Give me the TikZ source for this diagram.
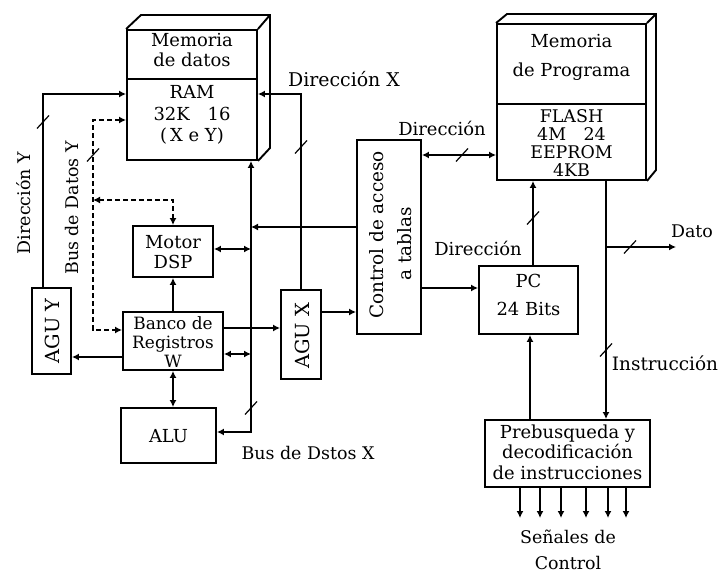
\documentclass[tikz,border=0pt]{standalone}
\usepackage{fontspec}
\setmainfont{DejaVu Serif}
\usetikzlibrary{arrows.meta}
\begin{document}
\begin{tikzpicture}[x=1bp,y=-1bp,line width=1.7bp,
  box/.style={draw,line width=1.9bp,inner sep=0pt},
  t/.style={inner sep=0pt,align=center,font=\fontsize{18}{20}\selectfont},
  arr/.style={-{Latex[length=7bp,width=7bp]}},
  darr/.style={{Latex[length=7bp,width=7bp]}-{Latex[length=7bp,width=7bp]}},
  dsh/.style={dash pattern=on 5bp off 3bp},
  slashmark/.style={line width=1.2bp}]
\useasboundingbox[fill=white] (0,0) rectangle (719,574);
% boxes
\node[box,minimum width=130bp,minimum height=130bp] (ram) at (192,95) {};
\draw[line width=1.9bp] (ram.north west) -- (141,15) -- (270,15) -- (270,148) -- (ram.south east);
\draw[line width=1.9bp] (ram.north east) -- (270,15);
\draw[line width=1.9bp] (ram.west |- 0,79) -- (ram.east |- 0,79);
\node[box,minimum width=149bp,minimum height=156bp] (prog) at (571.5,102) {};
\draw[line width=1.9bp] (prog.north west) -- (507,14) -- (656,14) -- (656,170) -- (prog.south east);
\draw[line width=1.9bp] (prog.north east) -- (656,14);
\draw[line width=1.9bp] (prog.west |- 0,104) -- (prog.east |- 0,104);
\node[box,minimum width=64bp,minimum height=194bp] (ctrl) at (389,237) {};
\node[box,minimum width=99bp,minimum height=68bp] (pc) at (528.5,300) {};
\node[box,minimum width=80bp,minimum height=51bp] (motor) at (173,251.5) {};
\node[box,minimum width=100bp,minimum height=58bp] (banco) at (173,341) {};
\node[box,minimum width=39bp,minimum height=86bp] (aguy) at (51.5,331) {};
\node[box,minimum width=40bp,minimum height=89bp] (agux) at (301,334.5) {};
\node[box,minimum width=95bp,minimum height=55bp] (alu) at (168.5,435.5) {};
\node[box,minimum width=165bp,minimum height=67bp] (preb) at (567.5,453.5) {};
% texts in boxes
\node[t] (tmd) at (192,50) {Memoria\\de datos};
\node[t,font=\fontsize{18}{21.5}\selectfont] (tram) at (192,115) {RAM\\32K\quad16\\(\,X e Y)};
\node[t] (tpm1) at (571.5,41) {Memoria};
\node[t] (tpm2) at (571.5,72) {de Programa};
\node[t,font=\fontsize{17.5}{18.3}\selectfont] (tfl) at (571.5,143) {FLASH\\4M\quad24\\EEPROM\\4KB};
\node[t,font=\fontsize{18.5}{20}\selectfont,rotate=90] (tc1) at (377,235) {Control de acceso};
\node[t,font=\fontsize{18.5}{20}\selectfont,rotate=90] (tc2) at (405,244) {a tablas};
\node[t,font=\fontsize{18}{28}\selectfont] (tpc) at (528.5,295) {PC\\24 Bits};
\node[t] (tmo) at (173,252) {Motor\\DSP};
\node[t,font=\fontsize{17}{19.5}\selectfont] (tba) at (173,342) {Banco de\\Registros\\W};
\node[t,font=\fontsize{19.5}{20}\selectfont,rotate=90] (tay) at (52,331) {AGU\ Y};
\node[t,font=\fontsize{19.5}{20}\selectfont,rotate=90] (tax) at (302,336) {AGU\ X};
\node[t] (tal) at (168.5,436) {ALU};
\node[t,font=\fontsize{18}{20.5}\selectfont] (tpr) at (567.5,452) {Prebusqueda y\\decodificación\\de instrucciones};
% labels
\node[t,font=\fontsize{19}{20}\selectfont] (ldx) at (344,79) {Dirección\ X};
\node[t,font=\fontsize{17.5}{20}\selectfont,rotate=90] (ldy) at (24,203) {Dirección Y};
\node[t,font=\fontsize{17.5}{20}\selectfont,rotate=90] (lby) at (72,208) {Bus de Datos\ Y};
\node[t,font=\fontsize{17.5}{20}\selectfont] (lbx) at (308,453) {Bus de Dstos X};
\node[t] (ld1) at (442,128) {Dirección};
\node[t] (ld2) at (478,248) {Dirección};
\node[t,font=\fontsize{17.5}{20}\selectfont] (ldato) at (692,231) {Dato};
\node[t,font=\fontsize{18.5}{20}\selectfont] (lins) at (665,363) {Instrucción};
\node[t,font=\fontsize{17.5}{26}\selectfont] (lsc) at (568,550) {Señales de\\Control};
% connectors
\draw[arr] (aguy.north -| 43,0) |- (ram.west |- 0,94);
\draw[darr,dsh] (ram.west |- 0,120) -| (93,330) -- (banco.west |- 0,330);
\draw[darr,dsh] (93,200) -| (motor.north);
\draw[darr] (alu.east |- 0,432) -| (ram.south -| 251,0);
\draw[darr] (motor.east |- 0,249) -- (251,249);
\draw[arr] (ctrl.west |- 0,227) -- (251,227);
\draw[arr] (agux.north) |- (ram.east |- 0,94);
\draw[arr] (banco.east |- 0,328) -- (agux.west |- 0,328);
\draw[darr] (banco.east |- 0,354) -- (251,354);
\draw[arr] (banco.west |- 0,357) -- (aguy.east |- 0,357);
\draw[arr] (banco.north) -- (motor.south);
\draw[darr] (banco.south) -- (banco.south |- alu.north);
\draw[arr] (agux.east |- 0,312) -- (ctrl.west |- 0,312);
\draw[arr] (ctrl.east |- 0,288) -- (pc.west |- 0,288);
\draw[darr] (ctrl.east |- 0,155) -- (prog.west |- 0,155);
\draw[arr] (pc.north -| 533,0) -- (prog.south -| 533,0);
\draw[arr] (prog.south -| 606,0) -- (preb.north -| 606,0);
\coordinate (dj) at (606,247);
\coordinate (dend) at (676,247);
\draw[arr] (dj) -- (dend);
\draw[arr] (preb.north -| 530,0) -- (pc.south -| 530,0);
\foreach \x in {520,540,561,586,608,626}
  \draw[arr] (preb.south -| \x,0) -- (\x,518);
% bus slashes
\foreach \a/\b in {43/122,93/155,251/408,301/147,462/155,533/218,606/350,630/247}
  \draw[slashmark] (\a-6,\b+6.5) -- (\a+6,\b-6.5);
\fill (301,227) circle (1.8bp);
\fill (251,328) circle (1.8bp);
\end{tikzpicture}
\end{document}
